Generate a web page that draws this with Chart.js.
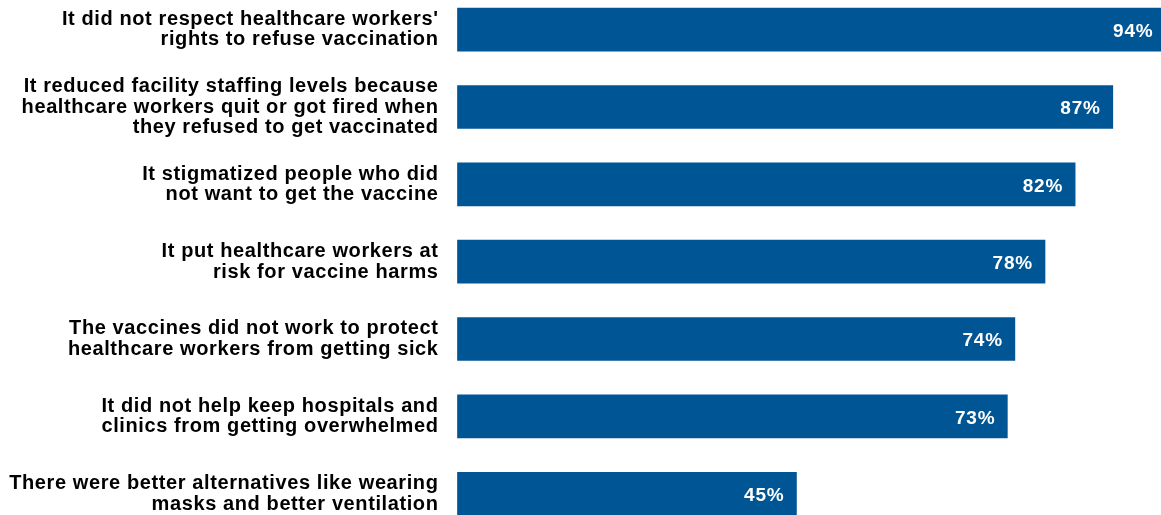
<!DOCTYPE html>
<html>
<head>
<meta charset="utf-8">
<script src="https://cdn.jsdelivr.net/npm/chart.js@4/dist/chart.umd.min.js"></script>
<style>
    html, body { margin: 0; padding: 0; background: #fff; overflow: hidden; }
    /* top and bottom bars run off the frame in the original, so the
       plot box is a bit taller than the window and nudged up */
    #frame { width: 1161px; height: 515px; position: relative; overflow: hidden; }
    #wrap { width: 1161px; height: 541.4px; position: absolute; left: 0; top: -9.2px; }
</style>
</head>
<body>
<div id="frame"><div id="wrap"><canvas id="reasonChart"></canvas></div></div>
<script>
// Reasons (each entry is one wrapped label, line by line)
const reasons = [
    ["It did not respect healthcare workers'", "rights to refuse vaccination"],
    ["It reduced facility staffing levels because", "healthcare workers quit or got fired when", "they refused to get vaccinated"],
    ["It stigmatized people who did", "not want to get the vaccine"],
    ["It put healthcare workers at", "risk for vaccine harms"],
    ["The vaccines did not work to protect", "healthcare workers from getting sick"],
    ["It did not help keep hospitals and", "clinics from getting overwhelmed"],
    ["There were better alternatives like wearing", "masks and better ventilation"]
];

const percents = [94, 87, 82, 78, 74, 73, 45];

const BAR_BLUE = "#005595";
const FONT = "'Liberation Sans', Arial, sans-serif";

// the original text is set a little loose, so widen the canvas lettering
const looseText = {
    id: "looseText",
    beforeDraw(chart) {
        chart.ctx.letterSpacing = "0.6px";
    }
};

// draws the white % figure at the inner end of each bar
const valueLabels = {
    id: "valueLabels",
    afterDatasetsDraw(chart) {
        const ctx = chart.ctx;
        const meta = chart.getDatasetMeta(0);
        ctx.save();
        ctx.letterSpacing = "0.8px";
        ctx.font = "bold 19px " + FONT;
        ctx.fillStyle = "#ffffff";
        ctx.textAlign = "right";
        ctx.textBaseline = "middle";
        meta.data.forEach((bar, i) => {
            ctx.fillText(percents[i] + "%", bar.x - 12, bar.y + 2);
        });
        ctx.restore();
    }
};

new Chart(document.getElementById("reasonChart"), {
    type: "bar",
    data: {
        labels: reasons,
        datasets: [{
            data: percents,
            backgroundColor: BAR_BLUE,
            borderWidth: 0,
            barThickness: 43,
            clip: false
        }]
    },
    options: {
        indexAxis: "y",
        responsive: true,
        maintainAspectRatio: false,
        animation: false,
        layout: { padding: 0 },
        plugins: {
            legend: { display: false },
            tooltip: { enabled: false }
        },
        scales: {
            x: {
                display: false,
                min: 0,
                max: 93.4
            },
            y: {
                offset: true,
                grid: { display: false, drawTicks: false },
                border: { display: false },
                afterFit(scale) {
                    scale.width = 457.5;
                    // labels never reach past the outer bars, so drop the overflow room
                    scale.paddingTop = 0;
                    scale.paddingBottom = 0;
                },
                ticks: {
                    color: "#000000",
                    padding: 19,
                    font: { family: FONT, size: 20, weight: "bold", lineHeight: 1.03 }
                }
            }
        }
    },
    plugins: [looseText, valueLabels]
});
</script>
</body>
</html>
